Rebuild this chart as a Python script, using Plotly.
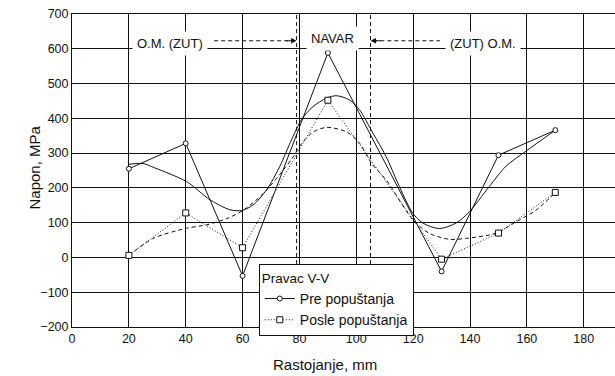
import plotly.graph_objects as go

# Measured stresses along direction V-V
distance_mm = [20, 40, 60, 90, 130, 150, 170]
stress_before = [255, 328, -53, 588, -40, 294, 366]   # Pre popuštanja
stress_after = [6, 128, 28, 452, -5, 70, 187]          # Posle popuštanja

# Smoothed trend through the "before" measurements
trend_before_x = [20, 25, 29, 40.3, 48.5, 55.6, 59.7, 63.7, 68.5, 73.1, 77.2, 80.7,
                  84.8, 89.5, 93.0, 97.6, 101.1, 105.8, 110.5, 114.6, 119.8, 123.4,
                  129.2, 135.1, 139.4, 146.8, 152.6, 159.6, 170]
trend_before_y = [268, 270, 258, 218, 166, 137, 135, 151, 195, 262, 338, 396,
                  434, 458, 465, 453, 425, 358, 290, 214, 128, 99,
                  83, 99, 128, 204, 262, 305, 366]

# Smoothed trend through the "after" measurements
trend_after_x = [20, 28.6, 40.3, 47.5, 54.5, 60.3, 67.3, 74.3, 77.8, 80.8, 84.9, 89.6,
                 96.6, 101.2, 105.4, 110.6, 120.0, 125.8, 132.9, 138.8, 147.0, 150.5,
                 156.3, 163.2, 170]
trend_after_y = [6, 55, 84, 94, 112, 136, 184, 251, 289, 328, 361, 374,
                 361, 328, 270, 222, 107, 69, 52, 55, 65, 75,
                 103, 136, 186]

# Weld zone boundaries (mm)
zone_bounds = [79, 105]

x_ticks = list(range(0, 200, 20))
y_ticks = list(range(-200, 800, 100))

FONT = "Liberation Sans, Arial, sans-serif"
INK = "#111111"

fig = go.Figure()

fig.add_trace(go.Scatter(
    x=trend_before_x, y=trend_before_y, mode="lines",
    line=dict(color=INK, width=1, shape="spline", smoothing=0.8),
    showlegend=False, hoverinfo="skip"))
fig.add_trace(go.Scatter(
    x=trend_after_x, y=trend_after_y, mode="lines",
    line=dict(color=INK, width=1, dash="4px,3px", shape="spline", smoothing=0.8),
    showlegend=False, hoverinfo="skip"))

fig.add_trace(go.Scatter(
    x=distance_mm, y=stress_before, mode="lines+markers",
    name="Pre popuštanja",
    line=dict(color=INK, width=1),
    marker=dict(symbol="circle", size=5, color="white", line=dict(color=INK, width=1))))
fig.add_trace(go.Scatter(
    x=distance_mm, y=stress_after, mode="lines+markers",
    name="Posle popuštanja",
    line=dict(color=INK, width=1, dash="1px,2px"),
    marker=dict(symbol="square", size=6, color="white", line=dict(color=INK, width=1))))

# Zone boundary lines
for xb in zone_bounds:
    fig.add_shape(type="line", x0=xb, x1=xb, y0=-200, y1=700, xref="x", yref="y",
                  line=dict(color=INK, width=1, dash="4px,3px"))

# Dashed arrows pointing toward the weld
arrow_y = 623
fig.add_shape(type="line", x0=50, x1=78, y0=arrow_y, y1=arrow_y,
              line=dict(color=INK, width=1, dash="4px,3px"))
fig.add_shape(type="line", x0=106, x1=129.4, y0=arrow_y, y1=arrow_y,
              line=dict(color=INK, width=1, dash="4px,3px"))
fig.add_annotation(x=zone_bounds[0], y=arrow_y, ax=-12, ay=0, text="", showarrow=True,
                   arrowhead=2, arrowsize=1.1, arrowwidth=1, arrowcolor=INK)
fig.add_annotation(x=zone_bounds[1], y=arrow_y, ax=12, ay=0, text="", showarrow=True,
                   arrowhead=2, arrowsize=1.1, arrowwidth=1, arrowcolor=INK)

labels = [("O.M. (ZUT)", 34.5, 614), ("NAVAR", 91.8, 631), ("(ZUT) O.M.", 144.5, 614)]
for txt, lx, ly in labels:
    fig.add_annotation(x=lx, y=ly, text=txt, showarrow=False, bgcolor="white",
                       borderpad=4, font=dict(family=FONT, size=13, color=INK))

# Axis titles
fig.add_annotation(x=89, y=-0.12, xref="x", yref="paper", text="Rastojanje, mm",
                   xanchor="center", yanchor="middle",
                   showarrow=False, font=dict(family=FONT, size=15, color=INK))
fig.add_annotation(x=-0.069, y=0.508, xref="paper", yref="paper", text="Napon, MPa",
                   xanchor="center", yanchor="middle", textangle=-90, showarrow=False,
                   font=dict(family=FONT, size=15, color=INK))

fig.update_layout(
    width=615, height=376,
    margin=dict(l=72, r=0, t=14, b=49),
    paper_bgcolor="white", plot_bgcolor="white",
    font=dict(family=FONT, size=13, color=INK),
    showlegend=True,
    legend=dict(
        title=dict(text="Pravac V-V", font=dict(family=FONT, size=13.5, color=INK)),
        x=0.344, y=0.2, xanchor="left", yanchor="top",
        bgcolor="white", bordercolor=INK, borderwidth=1,
        font=dict(family=FONT, size=14, color=INK),
        tracegroupgap=0, itemwidth=30),
    xaxis=dict(
        range=[0, 191], tickvals=x_ticks, showgrid=True, gridcolor=INK, gridwidth=1,
        showline=True, linecolor=INK, linewidth=1, mirror=True, zeroline=False,
        ticks="", tickfont=dict(family=FONT, size=12.5, color=INK)),
    yaxis=dict(
        range=[-200, 700], tickvals=y_ticks, showgrid=True, gridcolor=INK, gridwidth=1,
        showline=True, linecolor=INK, linewidth=1, zeroline=False,
        ticks="", tickfont=dict(family=FONT, size=12.5, color=INK)),
)

fig.write_html("out.html")
